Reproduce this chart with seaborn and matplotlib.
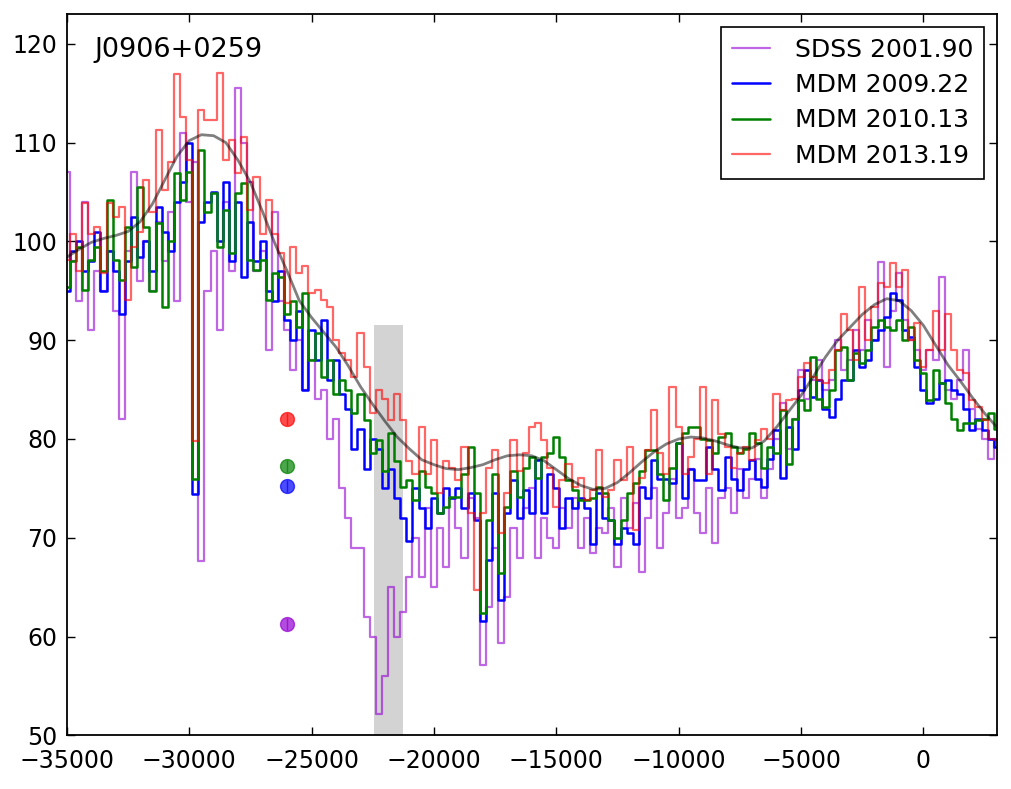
import numpy as np
import matplotlib
matplotlib.use("Agg")
import matplotlib.pyplot as plt
import seaborn as sns

# velocity grid of the binned spectra (km/s)
velocity = np.arange(-35000, 3001, 250)

sdss_2001 = [
    107, 98, 94, 104, 91, 97, 95, 99,
    93, 82, 99, 107, 96, 100, 95, 102,
    98, 103, 94, 111, 104, 108, 67.6, 95,
    99, 91, 104, 97, 115.5, 110, 106, 97,
    99, 89, 103, 94, 91, 87, 90, 85,
    88, 84, 85, 80, 82, 75, 72, 69,
    69, 62, 60, 52.2, 56, 65, 60, 62.5,
    66, 70, 66, 73, 65, 71, 67, 74,
    71, 68, 74, 72, 57.1, 63, 69, 59.3,
    64, 71, 68, 73, 75, 68, 72, 70,
    69, 73, 71, 74, 69, 72, 68.5, 71,
    70.5, 73, 67, 74, 71, 73.5, 66.5, 72,
    75, 69, 72.5, 76, 72, 73, 77, 72.5,
    70.5, 75, 69.5, 74, 75, 72.5, 77, 74,
    76, 78, 74, 77, 80, 83.6, 79, 82,
    87, 84, 86, 88, 85, 86, 90, 87,
    88, 91, 89, 92, 90, 97.9, 87.3, 93,
    96.8, 92, 90, 89, 87, 89, 88, 96.4,
    85, 84, 86, 89, 83, 81, 80, 78,
    80,
]

mdm_2009 = [
    95, 99, 100, 97, 98, 101, 95, 99,
    97, 92.7, 98, 102.5, 98.4, 100, 97, 103.5,
    101, 99, 104, 106, 110, 74.4, 102, 104,
    105, 100, 106, 98, 104, 96.4, 102, 98,
    100, 95, 94, 97, 92, 90, 93, 85,
    91, 88, 92, 86, 88, 84.6, 83, 79,
    81, 77, 80, 79, 75, 77, 74, 72,
    69.7, 75, 73, 71, 74, 72.5, 75, 74,
    75, 73, 74.5, 71.8, 61.6, 67.7, 74.5, 63.7,
    72.5, 75.8, 72, 74.8, 72.5, 77.9, 72.5, 76.5,
    75, 71, 74, 73, 74, 73, 69.4, 74.5,
    72, 71.8, 69.4, 71, 70.5, 69.4, 75.1, 74,
    77.9, 76, 76, 75.5, 79.6, 74, 77, 75.8,
    75.8, 79.2, 77, 74.8, 78.2, 76, 74.8, 77,
    77.9, 76, 75.1, 78, 80.9, 76.1, 81.2, 79,
    85, 87, 84.2, 86, 83, 82.2, 84, 86,
    86, 89, 87.3, 88, 90, 91, 92.3, 94.8,
    94.1, 91, 90.3, 87.3, 85, 83.6, 84, 85.7,
    86, 85, 84.6, 83, 80.9, 82, 80.9, 80,
    79.2,
]

mdm_2010 = [
    95.4, 98, 99.4, 95.1, 98.1, 99.4, 97, 104.2,
    98.1, 96.1, 101.5, 97.4, 105.5, 101.5, 95, 101.9,
    93.4, 100, 106.9, 104.2, 107, 76, 109.3, 103,
    104.9, 99.4, 103.2, 98.8, 104.9, 105.9, 98.1, 97.1,
    98.1, 94.1, 96.8, 96.4, 92.7, 94, 91.3, 94.8,
    88, 90.7, 86.3, 88, 84.6, 86, 85, 82.6,
    84.6, 81.9, 78.6, 79.9, 76.8, 80.6, 77.8, 75.1,
    75.8, 73.8, 76.8, 75.1, 74.5, 72.5, 73.1, 74.1,
    74.1, 76.5, 79.2, 74.5, 62.4, 71.8, 76.5, 66.4,
    73.1, 76.8, 74.1, 77.1, 78.2, 76.1, 78.2, 78.6,
    80.2, 78.2, 75.8, 74.8, 73.8, 73.8, 74, 75.1,
    74.5, 71.8, 70, 71.8, 74.5, 75.5, 76.8, 78.9,
    78.9, 76.5, 73.8, 77.1, 79.6, 80.6, 81.2, 81.2,
    80, 79.9, 78.6, 80.2, 80.6, 79.2, 78.6, 79,
    80.6, 79.6, 77.1, 79.2, 78.6, 82.9, 77.5, 82,
    83.9, 82.9, 88.3, 84, 83.2, 85, 89, 89.3,
    86, 88.7, 87.7, 89, 91.3, 92, 91.3, 91,
    92, 90, 91.3, 88, 86.7, 83.9, 87, 85.7,
    83.6, 82, 80.9, 81.6, 81.6, 81.9, 82, 82.6,
    81,
]

mdm_2013 = [
    98.1, 100.8, 97, 103.9, 100.8, 101.5, 96.8, 103.9,
    102.5, 103.5, 94.1, 99.4, 101, 106.2, 103, 111.3,
    105.2, 108, 116.9, 112.6, 108.2, 79.8, 113.3, 112.3,
    112.3, 117, 108.2, 110.3, 106.9, 110.6, 103.2, 106.5,
    100.8, 104.2, 100.8, 98.8, 93.8, 99.4, 96.8, 97.5,
    94.8, 95.1, 94.1, 93.4, 90, 88.7, 88, 86.3,
    90.7, 87.3, 82.6, 85, 84, 81.9, 84.6, 81.9,
    77.8, 76.5, 81.2, 76.5, 79.9, 74.5, 77.8, 77.1,
    75.8, 79.2, 72.5, 64.7, 72.5, 77.1, 78.9, 70.5,
    74.5, 79.9, 76.8, 78.6, 81.2, 81.6, 79.9, 77.1,
    73.1, 75.8, 77.5, 75.1, 76.1, 73.8, 74.8, 78.9,
    74.1, 74.8, 77.9, 75.8, 79.2, 70.8, 76.1, 78.9,
    82.9, 78.6, 76.5, 85.3, 81.2, 76.5, 78.2, 80,
    85.3, 76.5, 83.9, 80.5, 79.2, 77.1, 78.6, 79.2,
    77.9, 79.9, 81, 80, 84.6, 82.9, 83.9, 84,
    86.3, 87.7, 86.3, 86, 85.7, 87, 89, 92.7,
    91, 88, 95.4, 90, 93.4, 95.8, 95.4, 97.8,
    95.4, 97.1, 90, 91.7, 87.3, 89, 93, 89,
    92.7, 89, 87, 86.7, 83.9, 83.2, 81.9, 80,
    79.9,
]

# smooth model of the reference profile
model_velocity = np.arange(-35000, 3001, 500)
model_flux = [
    98.4, 99.2, 99.9, 100.3, 100.6, 101, 102, 103.8,
    106.2, 108.6, 110.2, 110.8, 110.7, 110, 108.2, 106,
    103, 99.8, 97, 94, 92.3, 90.8, 89.3, 87.4,
    85.3, 83.5, 81.8, 80.2, 79, 77.9, 77.4, 77,
    76.9, 77.1, 77.4, 77.9, 78.3, 78.4, 78.3, 77.8,
    76.9, 76, 75.3, 74.9, 75, 75.6, 76.6, 77.7,
    78.7, 79.5, 80, 80.2, 80.1, 79.8, 79.4, 79.1,
    79.1, 79.8, 81.2, 82.8, 84.4, 86.3, 88.3, 90,
    91.3, 92.6, 93.6, 94.2, 94, 93, 91.5, 89.5,
    87.5, 85.9, 84.2, 82.6, 81.2,
]

# trough-region averages at a single velocity
point_velocity = -26000
point_flux = [61.3, 75.2, 77.3, 82.0]

# excluded window
band_lo, band_hi, band_top = -22450, -21250, 91.5

labels = ["SDSS 2001.90", "MDM 2009.22", "MDM 2010.13", "MDM 2013.19"]
colors = ["darkviolet", "blue", "green", "red"]
alphas = [0.6, 1.0, 1.0, 0.6]
widths = [1.6, 1.8, 1.8, 1.6]
series = [sdss_2001, mdm_2009, mdm_2010, mdm_2013]

sns.set_theme(style="ticks", rc={
    "xtick.direction": "in", "ytick.direction": "in",
    "xtick.top": True, "ytick.right": True,
    "xtick.major.size": 6, "ytick.major.size": 6,
    "xtick.major.width": 1, "ytick.major.width": 1,
    "axes.linewidth": 1.3, "axes.edgecolor": "black",
    "xtick.color": "black", "ytick.color": "black",
    "text.color": "black", "axes.labelcolor": "black",
})
plt.rcParams["font.family"] = ["DejaVu Sans"]

fig = plt.figure(figsize=(10.12, 7.89), dpi=100)
ax = fig.add_axes([0.066, 0.068, 0.919, 0.914])

ax.fill_between([band_lo, band_hi], 50, band_top, color="lightgray", lw=0, zorder=0)

for vals, lab, col, a, lw in zip(series, labels, colors, alphas, widths):
    sns.lineplot(x=velocity, y=vals, ax=ax, color=col, alpha=a, lw=lw,
                 drawstyle="steps-mid", label=lab, zorder=2)

ax.plot(model_velocity, model_flux, color="black", alpha=0.5, lw=2, zorder=3)

for f, col in zip(point_flux, colors):
    ax.errorbar(point_velocity, f, yerr=0.6, fmt="o", color=col, ms=10,
                alpha=0.7, mec=col, elinewidth=1, zorder=4)

ax.text(0.03, 0.95, "J0906+0259", transform=ax.transAxes, fontsize=19.5,
        ha="left", va="center", color="black")

ax.set_xlim(-35000, 3000)
ax.set_ylim(50, 123)
ax.set_xticks(np.arange(-35000, 1, 5000))
ax.set_yticks(np.arange(50, 121, 10))
ax.tick_params(labelsize=17, labelcolor="black")
ax.tick_params(axis="x", pad=10)
ax.tick_params(axis="y", pad=7)
ax.set_xlabel("")
ax.set_ylabel("")

leg = ax.legend(loc="upper right", fontsize=18, frameon=True, fancybox=False,
                handlelength=1.5, borderpad=0.45, labelspacing=0.45,
                handletextpad=1.0, borderaxespad=0.5)
leg.get_frame().set_edgecolor("black")
leg.get_frame().set_linewidth(1.2)
leg.get_frame().set_alpha(1)
for t in leg.get_texts():
    t.set_color("black")

fig.savefig("out.png", dpi=100)
